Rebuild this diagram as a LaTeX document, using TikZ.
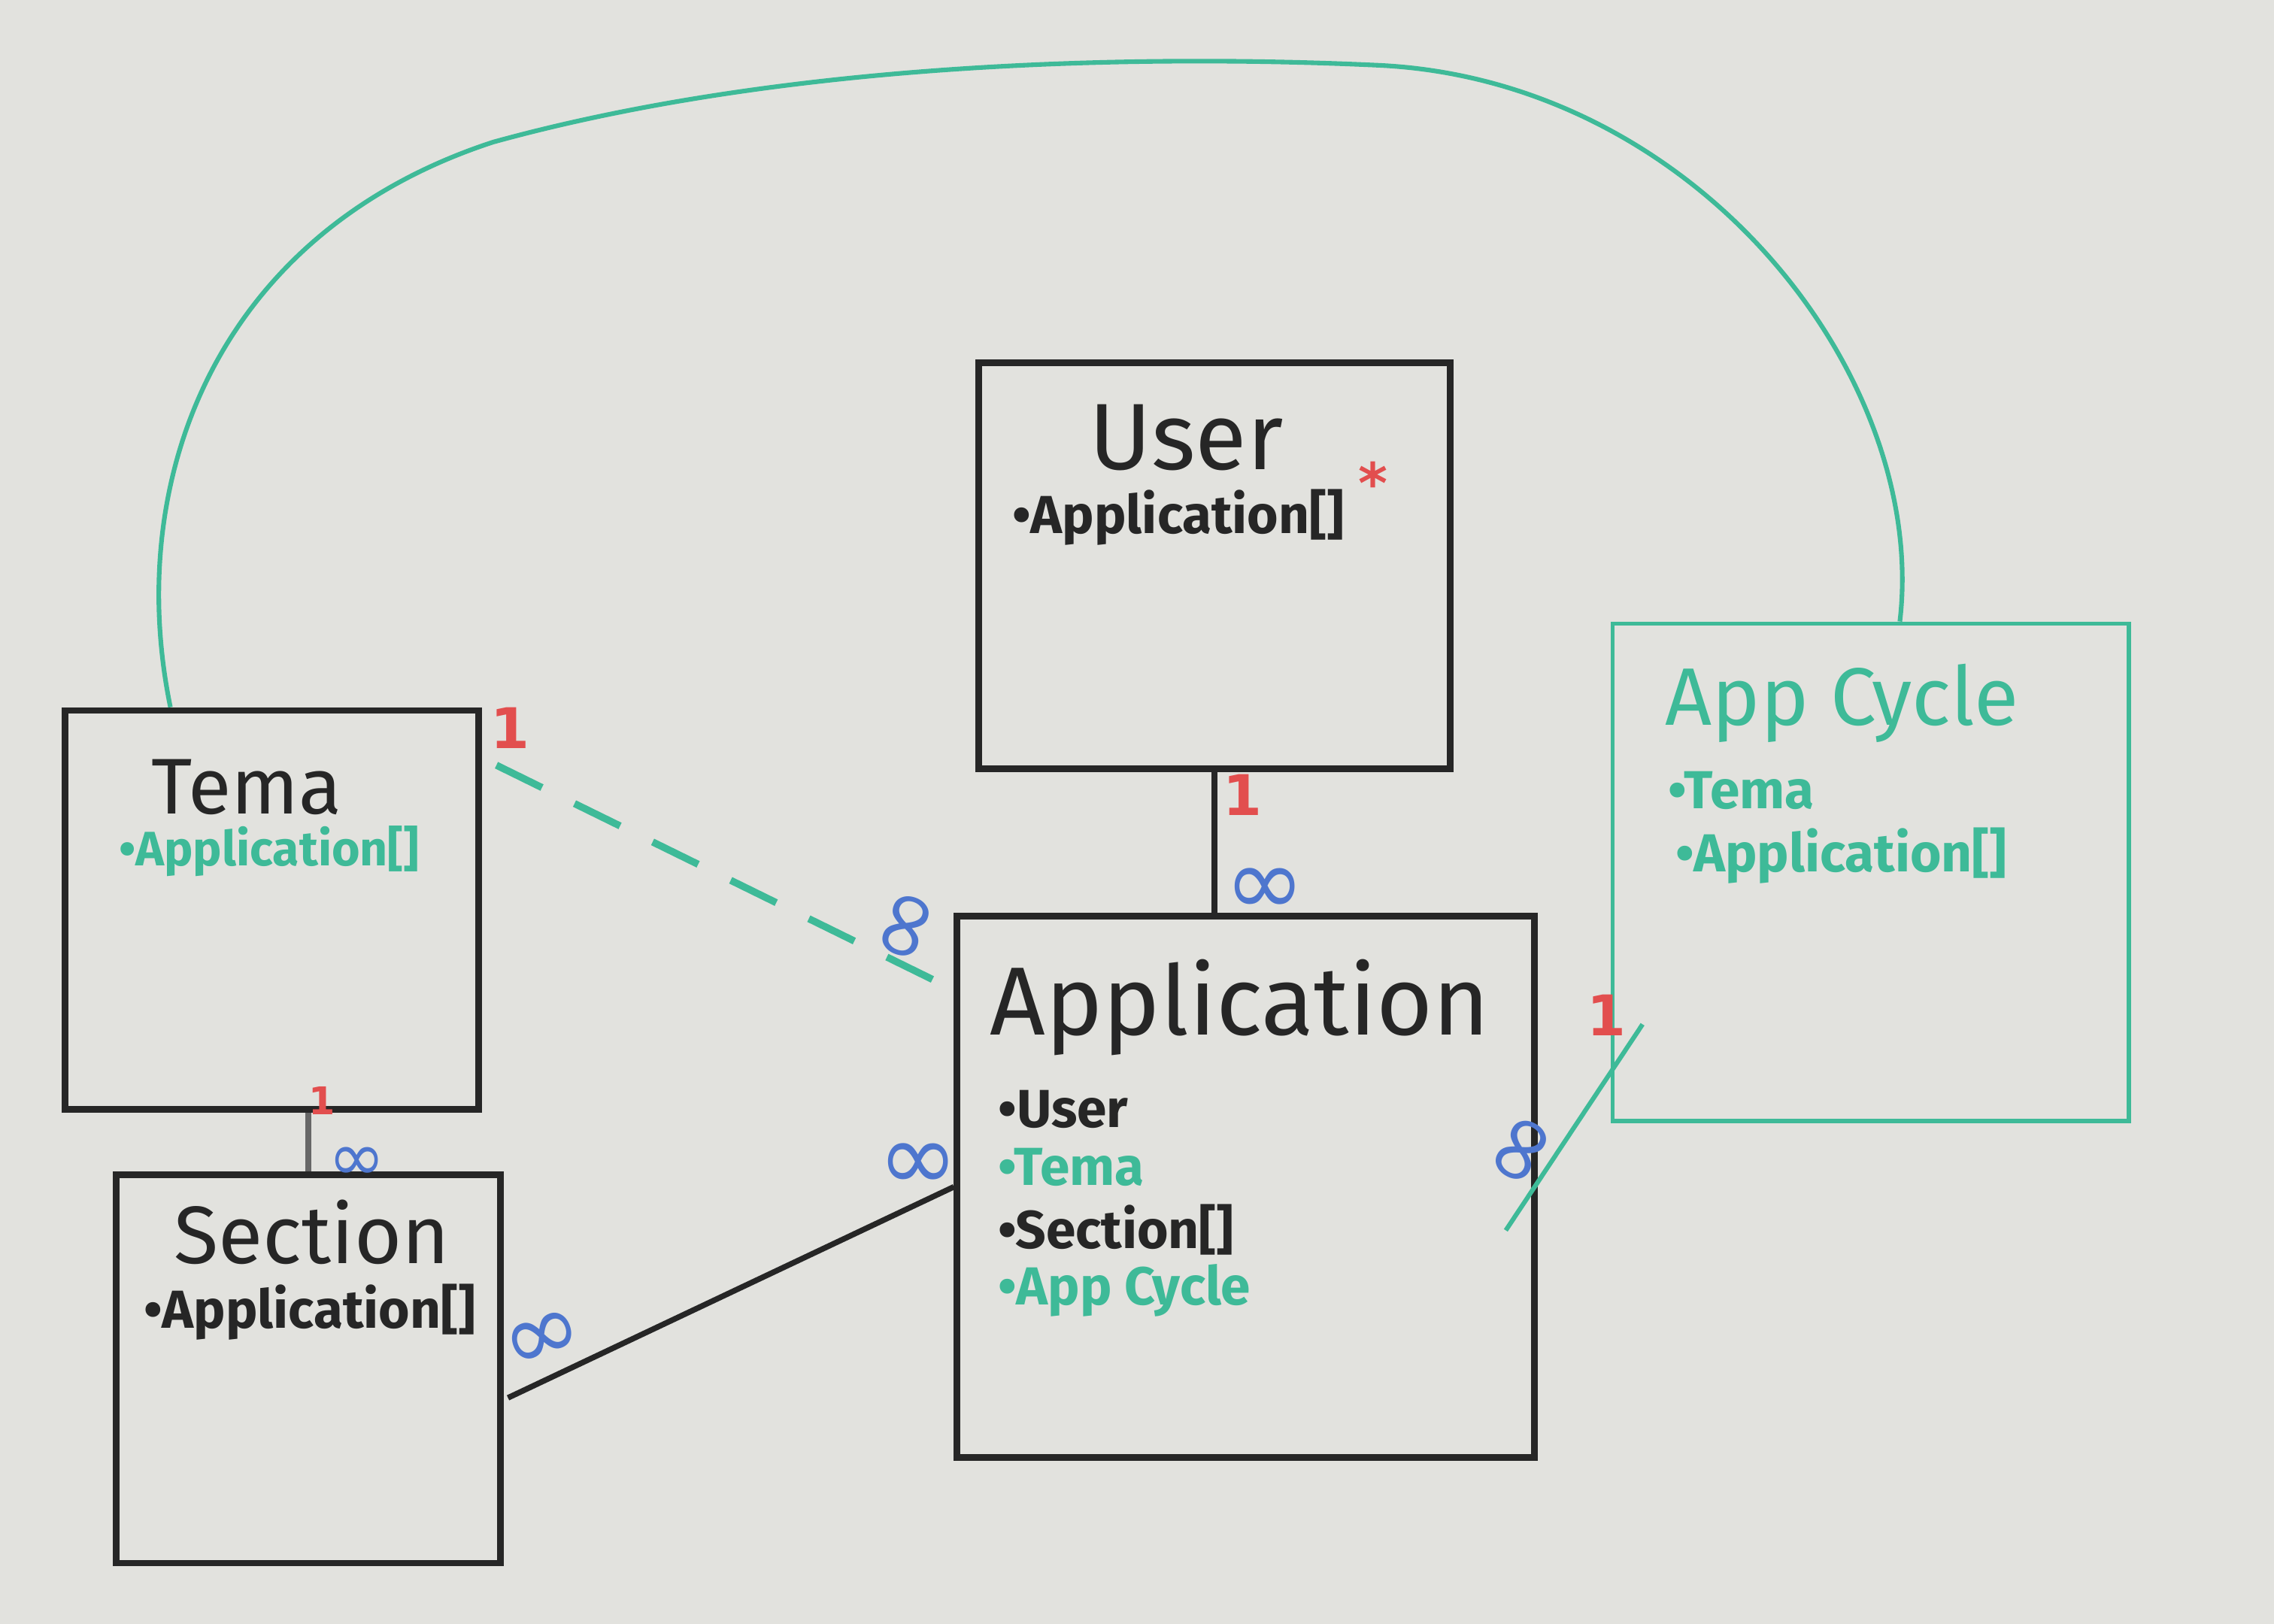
\documentclass[tikz,border=0pt]{standalone}
\usepackage{fontspec}
\setmainfont{Fira Sans}
\newfontfamily\markfont{DejaVu Sans}
\usetikzlibrary{calc}

\definecolor{board}{RGB}{226,226,222}
\definecolor{ink}{RGB}{38,38,38}
\definecolor{mint}{RGB}{62,186,152}
\definecolor{mred}{RGB}{226,78,78}
\definecolor{mblue}{RGB}{78,118,206}

\tikzset{
    box/.style={draw=ink, line width=2.6pt, rectangle, inner sep=0pt},
    greenbox/.style={draw=mint, line width=1.6pt, rectangle, inner sep=0pt},
    title/.style={font=\fontsize{34}{38}\selectfont, text=ink, inner sep=0pt},
    attr/.style={font=\fontsize{21}{24}\selectfont\bfseries, text=ink, anchor=west, inner sep=0pt},
    one/.style={text=mred, font=\markfont\fontsize{22}{24}\selectfont\bfseries, inner sep=0pt},
    many/.style={text=mblue, font=\markfont\fontsize{38}{38}\selectfont, inner sep=0pt},
    link/.style={draw=ink, line width=2.2pt},
    greenlink/.style={draw=mint, line width=1.8pt}
}

\begin{document}
\begin{tikzpicture}[x=0.2mm, y=-0.2mm]

            \fill[board] (0, 0) rectangle (1568, 1120);

            %%boxes
            \node[box, minimum width=65mm, minimum height=56mm] (user) at(837.5, 390){};
            \node[box, minimum width=57mm, minimum height=55mm] (tema) at(187.5, 627.5){};
            \node[box, minimum width=53mm, minimum height=53.6mm] (sec) at(212.5, 944){};
            \node[box, minimum width=79.6mm, minimum height=74.6mm] (app) at(859, 818.5){};
            \node[greenbox, minimum width=71.2mm, minimum height=68.6mm] (cycle) at(1290, 601.5){};

            %%texts
            \node[title, font=\fontsize{37}{40}\selectfont] (usertitle) at(818, 302){User};
            \node[attr] (userapps) at(698, 357){\textbullet Application[]};
            \node[one, font=\markfont\fontsize{22}{24}\selectfont\bfseries] (userstar) at(947, 333){*};

            \node[title, font=\fontsize{31}{34}\selectfont] (tematitle) at(170, 543){Tema};
            \node[attr, font=\fontsize{19}{22}\selectfont\bfseries, text=mint] (temaapps) at(82, 587){\textbullet Application[]};

            \node[title, font=\fontsize{32}{36}\selectfont] (sectitle) at(215, 850){Section};
            \node[attr] (secapps) at(99, 905){\textbullet Application[]};

            \node[title, font=\fontsize{38}{42}\selectfont] (apptitle) at(855, 695){Application};
            \node[attr] (appuser) at(688, 765){\textbullet User};
            \node[attr, text=mint] (apptema) at(688, 805){\textbullet Tema};
            \node[attr] (appsec) at(688, 848){\textbullet Section[]};
            \node[attr, text=mint] (appcycle) at(688, 890){\textbullet App Cycle};

            \node[title, font=\fontsize{32}{36}\selectfont, text=mint, anchor=west] (cycletitle) at(1148, 485){App Cycle};
            \node[attr, text=mint] (cycletema) at(1150, 545){\textbullet Tema};
            \node[attr, text=mint] (cycleapps) at(1155, 590){\textbullet Application[]};

            %%links
            \draw[link] (user.south) to (user.south |- app.north);
            \draw[link, draw=ink!70] (sec.north |- tema.south) to (sec.north);
            \draw[greenlink, line width=2.8pt, dash pattern=on 7mm off 5mm]
                ($(tema.north east)+(10, 40)$) to ($(app.north west)+(0, 53)$);
            \draw[link] ($(sec.east)+(3, 20)$) to (app.west);
            \draw[greenlink] ($(app.east)+(-22, 30)$) to ($(cycle.south west)+(22, -68)$);
            \draw[greenlink] ($(tema.north)+(-70, 0)$) .. controls (85, 330) and (150, 160) .. (340, 98)
                .. controls (550, 40) and (800, 38) .. (950, 45)
                .. controls (1170, 55) and (1330, 260) .. ($(cycle.north)+(20, 0)$);

            %%multiplicities
            \node[one] (n1) at(352, 502){1};
            \node[many, rotate=70] (m1) at(628, 640){∞};
            \node[one] (n2) at(857, 548){1};
            \node[many] (m2) at(872, 615){∞};
            \node[one, font=\markfont\fontsize{15}{16}\selectfont\bfseries] (n3) at(222, 759){1};
            \node[many, font=\markfont\fontsize{27}{27}\selectfont] (m3) at(246, 803){∞};
            \node[many, rotate=20] (m4) at(375, 925){∞};
            \node[many] (m5) at(633, 805){∞};
            \node[many, rotate=60] (m6) at(1052, 795){∞};
            \node[one] (n4) at(1108, 700){1};

\end{tikzpicture}
\end{document}
